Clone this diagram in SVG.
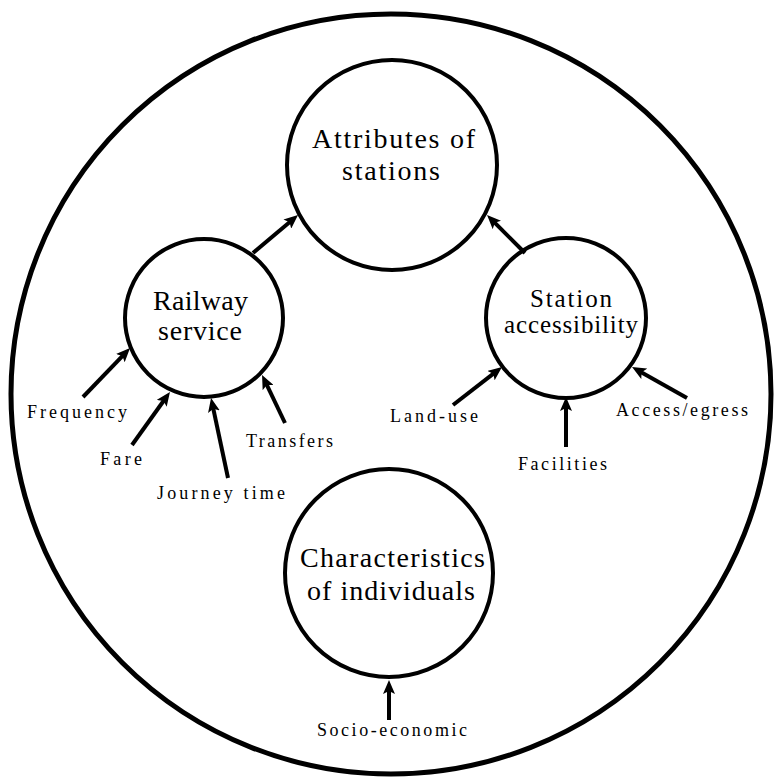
<svg xmlns="http://www.w3.org/2000/svg" width="774" height="780" viewBox="0 0 774 780">
<style>
.node{fill:none;stroke:#000;stroke-width:4}
.outer{fill:none;stroke:#000;stroke-width:5}
.conn line{stroke:#000;stroke-width:4;marker-end:url(#ah)}
</style>
<defs>
<marker id="ah" viewBox="0 0 14 12" refX="6" refY="6" markerWidth="14" markerHeight="12" markerUnits="userSpaceOnUse" orient="auto">
<path d="M0,0 L14,6 L0,12 L3,6 Z" fill="#000"/>
</marker>
</defs>
<rect width="774" height="780" fill="#fff"/>
<g id="outer"><circle class="outer" cx="391" cy="394" r="380"/></g>
<g id="attributes">
<circle class="node" cx="392" cy="165" r="105"/>
<text x="312" y="148" font-size="28" font-family="Liberation Serif" textLength="163" lengthAdjust="spacing">Attributes of</text>
<text x="342" y="180" font-size="28" font-family="Liberation Serif" textLength="98" lengthAdjust="spacing">stations</text>
</g>
<g id="railway">
<circle class="node" cx="204" cy="318" r="79"/>
<text x="153" y="310" font-size="28" font-family="Liberation Serif" textLength="95" lengthAdjust="spacing">Railway</text>
<text x="158" y="340" font-size="28" font-family="Liberation Serif" textLength="84" lengthAdjust="spacing">service</text>
</g>
<g id="station">
<circle class="node" cx="566" cy="318" r="80"/>
<text x="530" y="307" font-size="25" font-family="Liberation Serif" textLength="82" lengthAdjust="spacing">Station</text>
<text x="504" y="333" font-size="25" font-family="Liberation Serif" textLength="134" lengthAdjust="spacing">accessibility</text>
</g>
<g id="characteristics">
<circle class="node" cx="389" cy="573" r="104"/>
<text x="300" y="567" font-size="28" font-family="Liberation Serif" textLength="185" lengthAdjust="spacing">Characteristics</text>
<text x="307" y="600" font-size="28" font-family="Liberation Serif" textLength="168" lengthAdjust="spacing">of individuals</text>
</g>
<g id="labels">
<text x="27" y="418" font-size="18" font-family="Liberation Serif" textLength="100" lengthAdjust="spacing">Frequency</text>
<text x="100" y="465" font-size="18" font-family="Liberation Serif" textLength="42" lengthAdjust="spacing">Fare</text>
<text x="157" y="499" font-size="18" font-family="Liberation Serif" textLength="128" lengthAdjust="spacing">Journey time</text>
<text x="246" y="447" font-size="18" font-family="Liberation Serif" textLength="87" lengthAdjust="spacing">Transfers</text>
<text x="390" y="422" font-size="18" font-family="Liberation Serif" textLength="88" lengthAdjust="spacing">Land-use</text>
<text x="518" y="470" font-size="18" font-family="Liberation Serif" textLength="89" lengthAdjust="spacing">Facilities</text>
<text x="616" y="416" font-size="18" font-family="Liberation Serif" textLength="132" lengthAdjust="spacing">Access/egress</text>
<text x="317" y="736" font-size="18" font-family="Liberation Serif" textLength="150" lengthAdjust="spacing">Socio-economic</text>
</g>
<g id="connectors" class="conn">
<line x1="253" y1="253" x2="291.9" y2="220.2"/>
<line x1="525" y1="253" x2="492.7" y2="220.7"/>
<line x1="83" y1="397" x2="124.5" y2="353.8"/>
<line x1="132" y1="445" x2="165.3" y2="398.5"/>
<line x1="228" y1="478" x2="212.7" y2="405.8"/>
<line x1="285" y1="423" x2="265.5" y2="382.2"/>
<line x1="453" y1="405" x2="495.7" y2="371.9"/>
<line x1="566" y1="447" x2="566" y2="405"/>
<line x1="687" y1="398" x2="639" y2="370.9"/>
<line x1="389" y1="720" x2="389" y2="688"/>
</g>
</svg>
